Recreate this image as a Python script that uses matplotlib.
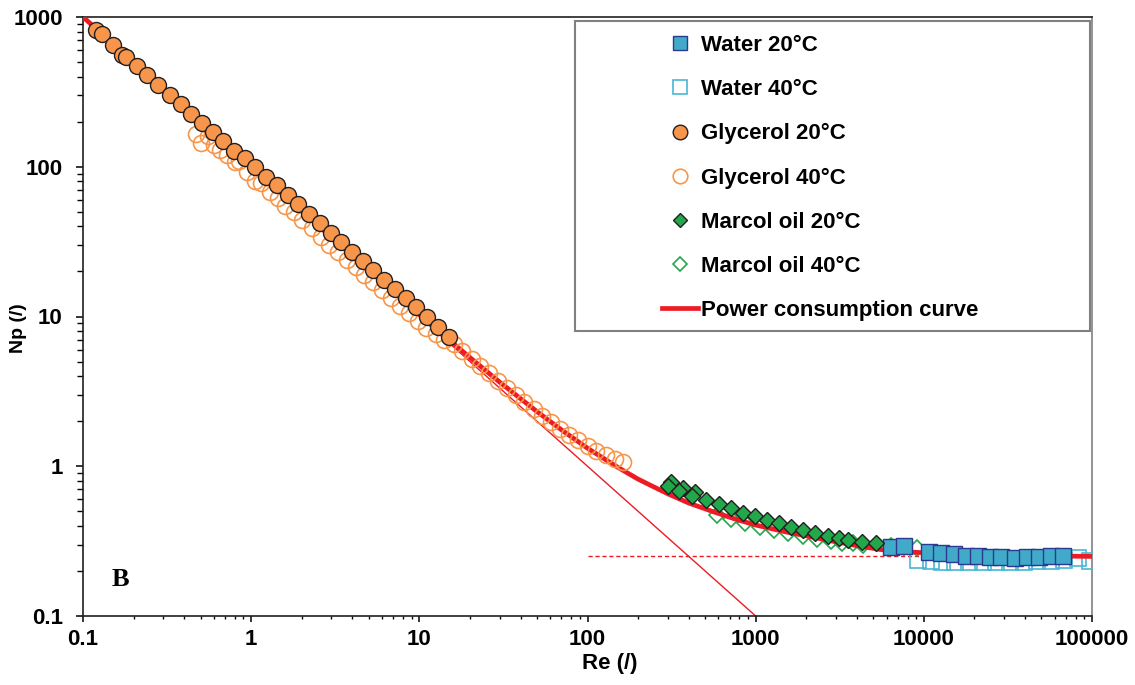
import matplotlib
matplotlib.use("Agg")
import matplotlib.pyplot as plt
from matplotlib.patches import Rectangle
from matplotlib.lines import Line2D
from matplotlib.ticker import FixedLocator, FixedFormatter, NullFormatter

plt.rcParams['font.family'] = ['Liberation Sans', 'DejaVu Sans']
plt.rcParams['font.weight'] = 'bold'

# ---- data ----
gly20_re = [0.12, 0.13, 0.15, 0.17, 0.18, 0.21, 0.24, 0.28, 0.33, 0.38, 0.44, 0.51,
            0.59, 0.68, 0.79, 0.92, 1.06, 1.23, 1.42, 1.65, 1.91, 2.2, 2.56, 2.97,
            3.44, 3.98, 4.6, 5.3, 6.2, 7.2, 8.3, 9.6, 11.1, 12.9, 15.0]
gly20_np = [820, 770, 650, 560, 540, 470, 410, 350, 300, 263, 226, 196,
            170, 148, 128, 115, 100, 86, 75, 64.5, 56, 48.5, 42, 36,
            31.3, 27, 23.5, 20.5, 17.6, 15.2, 13.2, 11.5, 9.9, 8.5, 7.3]

gly40_re = [0.47, 0.5, 0.55, 0.6, 0.65, 0.72, 0.8, 0.85, 0.95, 1.05, 1.15, 1.3,
            1.45, 1.6, 1.8, 2.0, 2.3, 2.6, 2.9, 3.3, 3.7, 4.2, 4.7, 5.3, 6.0, 6.8,
            7.7, 8.7, 9.8, 11, 12.5, 14, 16, 18, 20.5, 23, 26, 29.5, 33, 37.5, 42,
            48, 54, 61, 69, 78, 88, 100, 113, 128, 145, 162]
gly40_np = [165, 145, 160, 140, 130, 120, 108, 110, 92, 80, 78, 68,
            62, 55, 50, 44, 39, 34, 30, 27, 24, 21.5, 19, 17, 15, 13.3,
            11.8, 10.5, 9.4, 8.4, 7.6, 7.0, 6.6, 5.9, 5.2, 4.7, 4.2, 3.7, 3.35, 3.0, 2.7,
            2.4, 2.17, 1.97, 1.78, 1.62, 1.5, 1.37, 1.27, 1.18, 1.12, 1.07]

mar20_re = [314, 300, 369, 350, 434, 420, 507, 602, 715, 839, 997, 1165, 1383, 1625,
            1919, 2255, 2677, 3146, 3556, 4276, 5163]
mar20_np = [0.787, 0.74, 0.711, 0.68, 0.676, 0.63, 0.595, 0.560, 0.523, 0.490, 0.466,
            0.438, 0.416, 0.392, 0.376, 0.357, 0.340, 0.331, 0.322, 0.314, 0.306]

mar40_re = [588, 715, 869, 1057, 1285, 1563, 1901, 2312, 2812, 3258, 3770, 4365,
            6370, 7670, 9100]
mar40_np = [0.475, 0.445, 0.420, 0.392, 0.375, 0.356, 0.344, 0.328, 0.318, 0.305,
            0.309, 0.298, 0.293, 0.290, 0.283]

wat20_re = [6370, 7670, 10700, 12700, 15100, 17700, 20900, 24600, 28900, 34800,
            40900, 48300, 56800, 66800]
wat20_np = [0.290, 0.293, 0.269, 0.262, 0.258, 0.252, 0.250, 0.247, 0.246, 0.245,
            0.246, 0.247, 0.250, 0.250]

wat40_re = [9250, 11100, 12800, 15400, 18600, 22400, 27000, 32500, 39300, 47000,
            56900, 68400, 82400, 97000]
wat40_np = [0.237, 0.233, 0.229, 0.229, 0.231, 0.231, 0.231, 0.229, 0.231, 0.234,
            0.234, 0.237, 0.245, 0.232]

curve_re = [0.1, 1, 10, 20, 30, 50, 70, 100, 150, 200, 300, 400, 560, 750, 1000,
            1500, 2000, 3000, 4000, 5500, 8000, 12000, 20000, 40000, 100000]
curve_np = [1000, 100.3, 10.3, 5.32, 3.65, 2.32, 1.75, 1.32, 0.99, 0.82, 0.655, 0.568,
            0.497, 0.445, 0.405, 0.365, 0.343, 0.313, 0.295, 0.278, 0.268, 0.262,
            0.257, 0.253, 0.25]

laminar_re = [0.1, 1000]
laminar_np = [1000, 0.1]
turb_re = [100, 100000]
turb_np = [0.25, 0.25]

xticks = [0.1, 1, 10, 100, 1000, 10000, 100000]
xtick_labels = ['0.1', '1', '10', '100', '1000', '10000', '100000']
yticks = [0.1, 1, 10, 100, 1000]
ytick_labels = ['0.1', '1', '10', '100', '1000']

red = '#ed1c24'
orange = '#f7964a'
green = '#22a84a'
teal = '#41aac8'
navy = '#2b3990'
lightblue = '#4cb6d6'

fig = plt.figure(figsize=(11.35, 6.85), dpi=100)
ax = fig.add_axes([83/1135, 69/685, 1009/1135, 599/685])
ax.set_xscale('log')
ax.set_yscale('log')

ax.plot(laminar_re, laminar_np, color=red, lw=1.0, zorder=2)
ax.plot(turb_re, turb_np, color=red, lw=1.0, ls=(0, (3, 2)), zorder=2)

ax.plot(wat40_re, wat40_np, 's', ms=11, mfc='none', mec=lightblue, mew=1.2, ls='none', zorder=3)
ax.plot(mar40_re, mar40_np, 'D', ms=8, mfc='none', mec=green, mew=1.2, ls='none', zorder=3)
ax.plot(curve_re, curve_np, color=red, lw=3.4, zorder=3.5, solid_capstyle='butt')
ax.plot(wat20_re, wat20_np, 's', ms=11, mfc=teal, mec=navy, mew=1.0, ls='none', zorder=4)
ax.plot(mar20_re, mar20_np, 'D', ms=8.5, mfc=green, mec='#231f20', mew=1.0, ls='none', zorder=4)
ax.plot(gly40_re, gly40_np, 'o', ms=11.5, mfc='none', mec=orange, mew=1.2, ls='none', zorder=4.5)
ax.plot(gly20_re, gly20_np, 'o', ms=11.5, mfc=orange, mec='#231f20', mew=1.0, ls='none', zorder=5)

ax.set_xlim(0.1, 100000)
ax.set_ylim(0.1, 1000)

minor_x = [m * 10.0**e for e in range(-1, 5) for m in range(2, 10)]
minor_y = [m * 10.0**e for e in range(-1, 3) for m in range(2, 10)]
ax.xaxis.set_major_locator(FixedLocator(xticks))
ax.xaxis.set_major_formatter(FixedFormatter(xtick_labels))
ax.xaxis.set_minor_locator(FixedLocator(minor_x))
ax.xaxis.set_minor_formatter(NullFormatter())
ax.yaxis.set_major_locator(FixedLocator(yticks))
ax.yaxis.set_major_formatter(FixedFormatter(ytick_labels))
ax.yaxis.set_minor_locator(FixedLocator(minor_y))
ax.yaxis.set_minor_formatter(NullFormatter())

ax.tick_params(axis='both', which='major', direction='out', labelsize=16, width=1.1)
ax.tick_params(axis='x', which='major', length=4.5, pad=5)
ax.tick_params(axis='x', which='minor', length=2.5, width=1.0)
ax.tick_params(axis='y', which='major', length=5, pad=9.5)
ax.tick_params(axis='y', which='minor', length=4, width=1.0)
for lab in ax.get_xticklabels() + ax.get_yticklabels():
    lab.set_fontweight('bold')

for side in ['left', 'bottom', 'top']:
    ax.spines[side].set_linewidth(1.2)
    ax.spines[side].set_color('#231f20')
ax.spines['right'].set_linewidth(1.2)
ax.spines['right'].set_color('#808080')

ax.set_xlabel('Re (/)', fontsize=16, fontweight='bold')
ax.set_ylabel('Np (/)', fontsize=14, fontweight='bold')
ax.xaxis.set_label_coords(0.522, -0.062)
ax.yaxis.set_label_coords(-0.0555, 0.481)

fig.text(120/1135, 1 - 579/685, 'B', fontsize=19, fontweight='bold',
         family=['Liberation Serif', 'DejaVu Serif'], ha='center', va='center')

# legend box
fig.patches.append(Rectangle((575/1135, 1 - 331/685), 515/1135, 310/685,
                             transform=fig.transFigure, fill=True, facecolor='white',
                             edgecolor='#808080', lw=1.5, zorder=10))

handles = [
    Line2D([], [], marker='s', ms=10, mfc=teal, mec=navy, mew=1.0, ls='none'),
    Line2D([], [], marker='s', ms=10, mfc='none', mec=lightblue, mew=1.2, ls='none'),
    Line2D([], [], marker='o', ms=10.5, mfc=orange, mec='#231f20', mew=1.0, ls='none'),
    Line2D([], [], marker='o', ms=10.5, mfc='none', mec=orange, mew=1.2, ls='none'),
    Line2D([], [], marker='D', ms=7.5, mfc=green, mec='#231f20', mew=1.0, ls='none'),
    Line2D([], [], marker='D', ms=7.5, mfc='none', mec=green, mew=1.2, ls='none'),
    Line2D([], [], color=red, lw=3.4),
]
labels = ['Water 20°C', 'Water 40°C', 'Glycerol 20°C', 'Glycerol 40°C',
          'Marcol oil 20°C', 'Marcol oil 40°C', 'Power consumption curve']
leg = fig.legend(handles, labels, loc='upper left', bbox_to_anchor=(662/1135, 1 - 35/685),
                 frameon=False, prop={'family': 'Liberation Sans', 'weight': 'bold', 'size': 16},
                 handlelength=1.6, handletextpad=0.15, labelspacing=1.04,
                 borderpad=0, borderaxespad=0)
leg.set_zorder(11)

fig.savefig('out.png', dpi=100)
